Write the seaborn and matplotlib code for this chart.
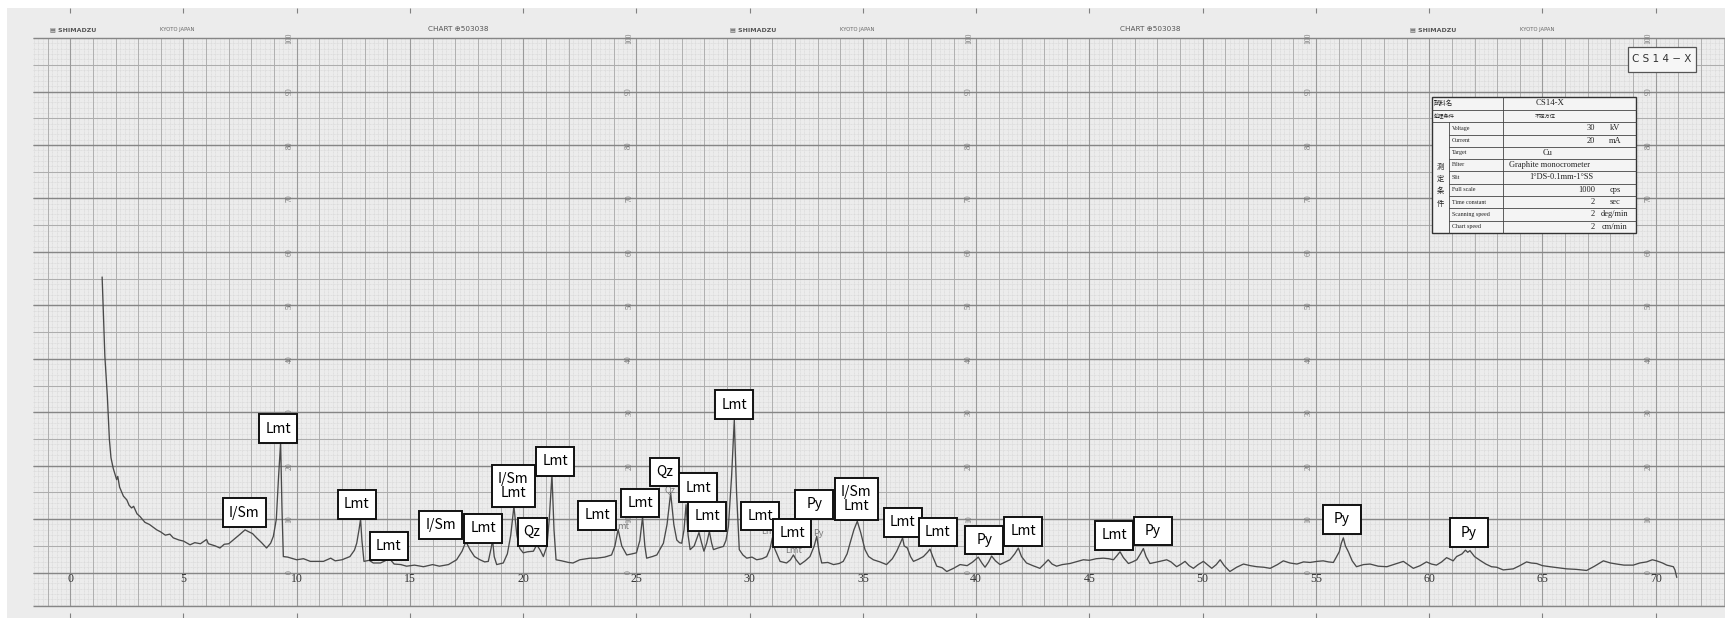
import matplotlib
matplotlib.use('Agg')
import matplotlib.pyplot as plt
from matplotlib.patches import Rectangle
from matplotlib import font_manager
import numpy as np
import pandas as pd
import seaborn as sns

# --- Trace (2-theta deg, intensity in % of full scale) ---
two_theta = [
    1.41, 1.50, 1.53, 1.64, 1.73, 1.80, 1.90, 2.05, 2.10, 2.18, 2.35, 2.50, 2.60, 2.71, 2.80,
    2.95, 3.08, 3.30, 3.50, 3.82, 4.00, 4.20, 4.40, 4.55, 4.80, 5.00, 5.29, 5.50, 5.75, 6.02,
    6.10, 6.40, 6.61, 6.80, 7.00, 7.20, 7.45, 7.72, 7.90, 8.05, 8.23, 8.45, 8.67, 8.85, 8.97,
    9.10, 9.20, 9.29, 9.35, 9.41, 9.60, 10.00, 10.30, 10.60, 11.18, 11.50, 11.70, 12.00, 12.35,
    12.55, 12.65, 12.75, 12.82, 12.88, 12.97, 13.20, 13.38, 13.70, 13.95, 14.12, 14.30, 14.60,
    14.85, 15.20, 15.60, 16.00, 16.30, 16.70, 17.06, 17.30, 17.47, 17.65, 17.85, 18.09, 18.30,
    18.46, 18.58, 18.65, 18.72, 18.83, 19.12, 19.30, 19.45, 19.59, 19.72, 19.85, 20.00, 20.20,
    20.45, 20.60, 20.75, 20.89, 21.05, 21.15, 21.27, 21.36, 21.45, 21.70, 22.00, 22.20, 22.50,
    22.95, 23.24, 23.60, 23.90, 24.05, 24.19, 24.35, 24.57, 24.80, 25.00, 25.15, 25.27, 25.37,
    25.45, 25.70, 25.90, 26.19, 26.35, 26.51, 26.65, 26.78, 26.90, 27.00, 27.10, 27.19, 27.28,
    27.37, 27.55, 27.76, 27.88, 27.98, 28.10, 28.22, 28.32, 28.40, 28.60, 28.84, 28.95, 29.06,
    29.20, 29.32, 29.42, 29.54, 29.70, 29.87, 30.10, 30.31, 30.55, 30.75, 30.90, 31.00, 31.10,
    31.34, 31.63, 31.80, 31.93, 32.05, 32.22, 32.45, 32.66, 32.85, 32.96, 33.06, 33.18, 33.45,
    33.70, 33.95, 34.13, 34.30, 34.43, 34.60, 34.75, 34.90, 35.09, 35.25, 35.46, 35.75, 36.04,
    36.30, 36.49, 36.65, 36.75, 36.82, 36.96, 37.10, 37.23, 37.45, 37.67, 37.85, 37.96, 38.08,
    38.26, 38.50, 38.70, 39.00, 39.29, 39.60, 39.85, 40.09, 40.25, 40.39, 40.55, 40.68, 40.85,
    41.05, 41.30, 41.49, 41.70, 41.86, 42.00, 42.22, 42.50, 42.81, 43.00, 43.18, 43.35, 43.55,
    43.80, 44.14, 44.40, 44.73, 45.00, 45.30, 45.61, 45.85, 46.06, 46.22, 46.35, 46.50, 46.72,
    46.90, 47.09, 47.25, 47.38, 47.50, 47.67, 48.00, 48.41, 48.60, 48.85, 49.05, 49.22, 49.40,
    49.59, 49.80, 50.03, 50.20, 50.40, 50.60, 50.77, 50.95, 51.20, 51.50, 51.80, 52.10, 52.39,
    52.70, 52.98, 53.30, 53.56, 53.85, 54.16, 54.45, 54.74, 55.05, 55.32, 55.55, 55.77, 56.03,
    56.12, 56.21, 56.30, 56.43, 56.60, 56.79, 57.10, 57.39, 57.75, 58.13, 58.50, 58.86, 59.30,
    59.60, 59.88, 60.10, 60.32, 60.55, 60.77, 61.06, 61.21, 61.45, 61.60, 61.70, 61.80, 62.00,
    62.24, 62.50, 62.75, 62.98, 63.27, 63.71, 64.00, 64.30, 64.50, 64.74, 65.00, 65.33, 65.70,
    66.07, 66.50, 66.95, 67.30, 67.69, 68.00, 68.28, 68.60, 69.01, 69.30, 69.60, 69.85, 70.04,
    70.30, 70.49, 70.78, 70.85, 70.93,
]
intensity = [
    55.3, 44.0, 40.5, 33.0, 24.9, 21.5, 19.5, 17.4, 18.0, 16.0, 14.3, 13.6, 12.6, 12.1, 12.4,
    11.0, 10.5, 9.4, 9.0, 8.0, 7.6, 7.0, 7.2, 6.5, 6.1, 5.9, 5.2, 5.6, 5.4, 6.2,
    5.4, 5.0, 4.6, 5.3, 5.4, 6.1, 7.0, 8.0, 7.6, 7.3, 6.5, 5.6, 4.6, 5.5, 6.8,
    10.0, 18.0, 24.3, 12.0, 3.0, 2.9, 2.4, 2.6, 2.1, 2.1, 2.7, 2.2, 2.4, 3.0,
    4.2, 5.5, 8.0, 10.0, 6.0, 2.1, 2.3, 1.8, 1.8, 2.3, 2.5, 1.6, 1.5,
    1.2, 1.4, 1.1, 1.5, 1.2, 1.5, 2.4, 4.0, 5.8, 4.3, 3.0, 2.4, 2.0,
    2.1, 4.5, 6.1, 3.0, 1.5, 1.8, 3.5, 7.0, 12.4, 7.0, 4.5, 3.7, 3.9,
    4.0, 5.2, 4.2, 3.0, 5.0, 10.0, 18.3, 8.0, 2.4, 2.2, 1.9, 1.8, 2.4,
    2.7, 2.7, 2.9, 3.3, 5.0, 8.1, 5.0, 3.3, 3.5, 3.7, 6.0, 10.4, 5.0,
    2.7, 3.0, 3.3, 5.5, 9.0, 14.9, 9.0, 6.1, 5.6, 5.5, 8.0, 12.7, 7.0,
    4.3, 5.0, 7.5, 5.5, 4.0, 5.5, 7.7, 5.5, 4.3, 4.6, 4.9, 6.0, 8.6,
    18.0, 28.6, 15.0, 4.3, 3.3, 2.7, 2.9, 2.4, 2.6, 3.0, 4.5, 6.5, 4.5,
    2.1, 1.8, 2.4, 3.3, 2.4, 1.5, 2.2, 3.0, 5.0, 6.8, 4.0, 1.8, 1.9,
    1.5, 1.7, 2.1, 3.5, 5.5, 8.0, 9.6, 7.5, 4.3, 3.0, 2.4, 2.0, 1.5,
    2.6, 4.0, 5.5, 6.5, 5.0, 4.6, 3.0, 2.1, 2.5, 3.0, 3.8, 4.4, 3.0,
    1.2, 0.9, 0.2, 0.8, 1.5, 1.3, 2.0, 2.9, 1.8, 1.0, 2.0, 3.1, 2.2,
    1.5, 2.0, 2.4, 3.5, 4.6, 3.0, 1.8, 1.3, 0.8, 1.6, 2.4, 1.6, 1.2,
    1.5, 1.7, 2.0, 2.4, 2.3, 2.6, 2.7, 2.6, 2.4, 3.2, 3.9, 2.8, 1.7,
    2.0, 2.4, 3.5, 4.5, 3.0, 1.7, 2.0, 2.4, 2.0, 1.1, 1.6, 2.1, 1.3,
    0.8, 1.5, 2.1, 1.5, 0.8, 1.5, 2.4, 1.3, 0.2, 1.0, 1.6, 1.3, 1.1,
    1.0, 0.8, 1.5, 2.2, 1.8, 1.6, 2.0, 1.9, 2.1, 2.2, 2.0, 1.9, 3.9,
    5.5, 6.5, 5.0, 3.9, 2.2, 1.1, 1.5, 1.6, 1.2, 1.1, 1.6, 2.1, 0.8,
    1.3, 2.0, 1.6, 1.4, 2.0, 2.8, 2.2, 3.0, 3.5, 4.2, 3.8, 4.1, 3.0,
    2.3, 1.6, 1.1, 1.0, 0.5, 0.7, 1.3, 2.0, 1.8, 1.7, 1.3, 1.1, 0.9,
    0.7, 0.6, 0.4, 1.2, 2.2, 1.8, 1.6, 1.4, 1.4, 1.8, 2.0, 2.4, 2.2,
    1.8, 1.4, 1.1, 0.5, -0.9,
]

# phase labels pasted on the chart (centre of each box, in chart units)
peak_labels = ['I/Sm', 'Lmt', 'Lmt', 'Lmt', 'I/Sm', 'Lmt', 'I/Sm\nLmt', 'Qz', 'Lmt',
               'Lmt', 'Lmt', 'Qz', 'Lmt', 'Lmt', 'Lmt', 'Lmt', 'Lmt', 'Py', 'I/Sm\nLmt',
               'Lmt', 'Lmt', 'Py', 'Lmt', 'Lmt', 'Py', 'Py', 'Py']
label_theta = [7.68, 9.18, 12.65, 14.07, 16.36, 18.23, 19.55, 20.39, 21.41,
               23.26, 25.17, 26.23, 27.73, 28.13, 29.32, 30.47, 31.88, 32.85, 34.71,
               36.75, 38.30, 40.36, 42.08, 46.09, 47.79, 56.14, 61.74]
label_level = [11.2, 26.9, 12.8, 5.0, 8.9, 8.3, 16.2, 7.6, 20.8,
               10.7, 13.0, 18.8, 15.9, 10.5, 31.4, 10.6, 7.4, 12.8, 13.8,
               9.4, 7.6, 6.1, 7.7, 7.0, 7.8, 10.0, 7.5]

# faint hand-written leftovers visible on the original trace
faint_text = ['mt', 'Qz', 'Lm', 'Lmt', 'Py']
faint_theta = [24.40, 26.48, 30.80, 31.92, 33.02]
faint_level = [8.7, 15.6, 7.6, 4.2, 7.4]

x_tick_degs = list(range(0, 75, 5))
scale_values = list(range(0, 110, 10))
scale_lines = [10, 25, 40, 55, 70]

sample_name = 'CS14-X'
treatment = '不定方位'
cond_labels = ['Voltage', 'Current', 'Target', 'Filter', 'Slit', 'Full scale',
               'Time constant', 'Scanning speed', 'Chart speed']
cond_values = ['30', '20', 'Cu', 'Graphite monocrometer', '1°DS-0.1mm-1°SS',
               '1000', '2', '2', '2']
cond_units = ['kV', 'mA', '', '', '', 'cps', 'sec', 'deg/min', 'cm/min']

# --- Layout of the scanned sheet (pixels) ---
W, H = 1725, 618
PX0, PX_PER_DEG = 70.2, 22.65
PY0, PX_PER_UNIT = 572.6, 5.345
GRID_LEFT, GRID_BOTTOM, GRID_TOP = -1.64, -6.3, 100

sns.set_style('white')
plt.rcParams['font.family'] = ['DejaVu Sans', 'Noto Sans CJK JP']
available = {f.name for f in font_manager.fontManager.ttflist}
label_family = 'Liberation Sans Narrow' if 'Liberation Sans Narrow' in available else 'Noto Sans CJK JP'
serif = ['Liberation Serif', 'DejaVu Serif']
cjk = ['Noto Sans CJK JP', 'DejaVu Sans']

fig = plt.figure(figsize=(W / 100, H / 100), dpi=100, facecolor='white')
ax = fig.add_axes([0, 0, 1, 1])
ax.set_xlim(-PX0 / PX_PER_DEG, (W - PX0) / PX_PER_DEG)
ax.set_ylim((PY0 - H) / PX_PER_UNIT, PY0 / PX_PER_UNIT)
ax.axis('off')

x_right = (W - PX0) / PX_PER_DEG + 0.5

# paper
ax.add_patch(Rectangle((-2.79, -10), x_right + 3, 105.6 + 10, fc='#ececec', ec='none', zorder=0))

# chart grid
minor_x = np.arange(-1.6, x_right, 0.2)
ax.vlines(minor_x, GRID_BOTTOM, GRID_TOP, colors='#d3d3d3', lw=0.4,
          linestyles=(0, (1.6, 1.0)), zorder=1)
ax.hlines(np.arange(-6, GRID_TOP, 1), GRID_LEFT, x_right, colors='#d3d3d3', lw=0.4,
          linestyles=(0, (1.6, 1.0)), zorder=1)
ax.vlines(np.arange(-1, x_right, 1), GRID_BOTTOM, GRID_TOP, colors='#acacac', lw=0.65, zorder=1.2)
ax.vlines(np.arange(0, x_right, 5), GRID_BOTTOM, GRID_TOP, colors='#9a9a9a', lw=0.8, zorder=1.3)
ax.hlines(np.arange(0, GRID_TOP + 1, 5), GRID_LEFT, x_right, colors='#adadad', lw=0.75, zorder=1.2)
ax.hlines(np.arange(0, GRID_TOP + 1, 10), GRID_LEFT, x_right, colors='#868686', lw=1.0, zorder=1.3)
ax.hlines([GRID_BOTTOM], GRID_LEFT, x_right, colors='#868686', lw=1.0, zorder=1.3)

# edge ticks of the roll paper
ax.vlines(x_tick_degs, 104.75, 105.6, colors='#808080', lw=0.8, zorder=1.3)
ax.vlines(x_tick_degs, -8.6, -7.55, colors='#808080', lw=0.8, zorder=1.3)

# printed scale figures
for d in x_tick_degs:
    ax.text(d, -1.2, str(d), ha='center', va='center', fontsize=8.5,
            family=serif, color='#333333', zorder=2)
for line in scale_lines:
    for v in scale_values:
        ax.text(line - 0.32, v, str(v), ha='center', va='center', fontsize=5.5,
                family=serif, color='#777777', rotation=90, zorder=2)

# the diffraction trace
df = pd.DataFrame({'two_theta': two_theta, 'intensity': intensity})
sns.lineplot(data=df, x='two_theta', y='intensity', ax=ax, color='#4a4a4a',
             lw=0.95, zorder=3, estimator=None)
ax.set_xlabel('')
ax.set_ylabel('')

for t, x, y in zip(faint_text, faint_theta, faint_level):
    ax.text(x, y, t, ha='center', va='center', fontsize=6.5, color='#7a7a7a',
            family=label_family, zorder=3.5)

# phase label boxes
box_w_px = {'Lmt': 38, 'Py': 38, 'Qz': 29, 'I/Sm': 43, 'I/Sm\nLmt': 43}
for t, x, y in zip(peak_labels, label_theta, label_level):
    w = box_w_px[t] / PX_PER_DEG
    h = (41.5 if '\n' in t else 28.7) / PX_PER_UNIT
    ax.add_patch(Rectangle((x - w / 2, y - h / 2), w, h, fc='white', ec='#111111',
                           lw=1.4, zorder=5))
    ax.text(x, y, t, ha='center', va='center', fontsize=10, family=label_family,
            color='black', linespacing=1.0, zorder=6)

# --- overlay in pixel units: header print, sample tag and condition table ---
ov = fig.add_axes([0, 0, 1, 1], facecolor='none')
ov.set_xlim(0, W)
ov.set_ylim(H, 0)
ov.axis('off')

for k in range(3):
    ov.text(50 + 680 * k, 30, '▤ SHIMADZU', fontsize=4.5, weight='bold', color='#555555',
            ha='left', va='center')
    ov.text(160 + 680 * k, 30, 'KYOTO JAPAN', fontsize=3.8, color='#666666',
            ha='left', va='center')
for cx in [458, 1150]:
    ov.text(cx, 29, 'CHART ⊕503038', fontsize=5.2, color='#555555', ha='center', va='center')

# sample tag
ov.add_patch(Rectangle((1628, 46.7), 68, 25, fc='#f6f6f6', ec='#555555', lw=0.9))
ov.text(1662, 59.2, 'C S 1 4 − X', fontsize=7.5, color='#333333', ha='center', va='center')

# condition table
t_left, t_col1, t_col2, t_right = 1431.7, 1449.3, 1502.7, 1636
row_y = [96.7, 110, 122.3, 134.7, 146.7, 158.7, 171, 183.7, 196, 208.3, 220.7, 232.7]
ov.add_patch(Rectangle((t_left, row_y[0]), t_right - t_left, row_y[-1] - row_y[0],
                       fc='#f4f4f4', ec='#333333', lw=1.0, zorder=2))
for i, y in enumerate(row_y[1:-1]):
    x0 = t_left if i < 2 else t_col1
    ov.plot([x0, t_right], [y, y], color='#444444', lw=0.6, zorder=3)
ov.plot([t_col2, t_col2], [row_y[0], row_y[-1]], color='#444444', lw=0.6, zorder=3)
ov.plot([t_col1, t_col1], [row_y[2], row_y[-1]], color='#444444', lw=0.6, zorder=3)

mid = [(a + b) / 2 for a, b in zip(row_y[:-1], row_y[1:])]
ov.text(t_left + 2, mid[0], '試料名', fontsize=4.6, family=cjk, ha='left', va='center',
        color='#222222', zorder=4)
ov.text(1550, mid[0], sample_name, fontsize=6.3, family=serif, ha='center', va='center',
        color='#222222', zorder=4)
ov.text(t_left + 2, mid[1], '処理条件', fontsize=3.8, family=cjk, ha='left', va='center',
        color='#222222', zorder=4)
ov.text(1545, mid[1], treatment, fontsize=3.8, family=cjk, ha='center', va='center',
        color='#222222', zorder=4)
for i, ch in enumerate('測定条件'):
    ov.text((t_left + t_col1) / 2, 166.7 + 12.3 * i, ch, fontsize=5.3, family=cjk,
            ha='center', va='center', color='#222222', zorder=4)

for i, (lab, val, unit) in enumerate(zip(cond_labels, cond_values, cond_units)):
    y = mid[i + 2]
    ov.text(t_col1 + 2.5, y, lab, fontsize=4.3, family=serif, ha='left', va='center',
            color='#222222', zorder=4)
    if unit:
        ov.text(1595, y, val, fontsize=6.0, family=serif, ha='right', va='center',
                color='#222222', zorder=4)
        ov.text(1615, y, unit, fontsize=6.0, family=serif, ha='center', va='center',
                color='#222222', zorder=4)
    else:
        cx = 1561.7 if val.startswith('1°') else (1548 if val == 'Cu' else 1550)
        ov.text(cx, y, val, fontsize=6.0, family=serif, ha='center', va='center',
                color='#222222', zorder=4)

fig.savefig('out.png', dpi=100, facecolor='white')
